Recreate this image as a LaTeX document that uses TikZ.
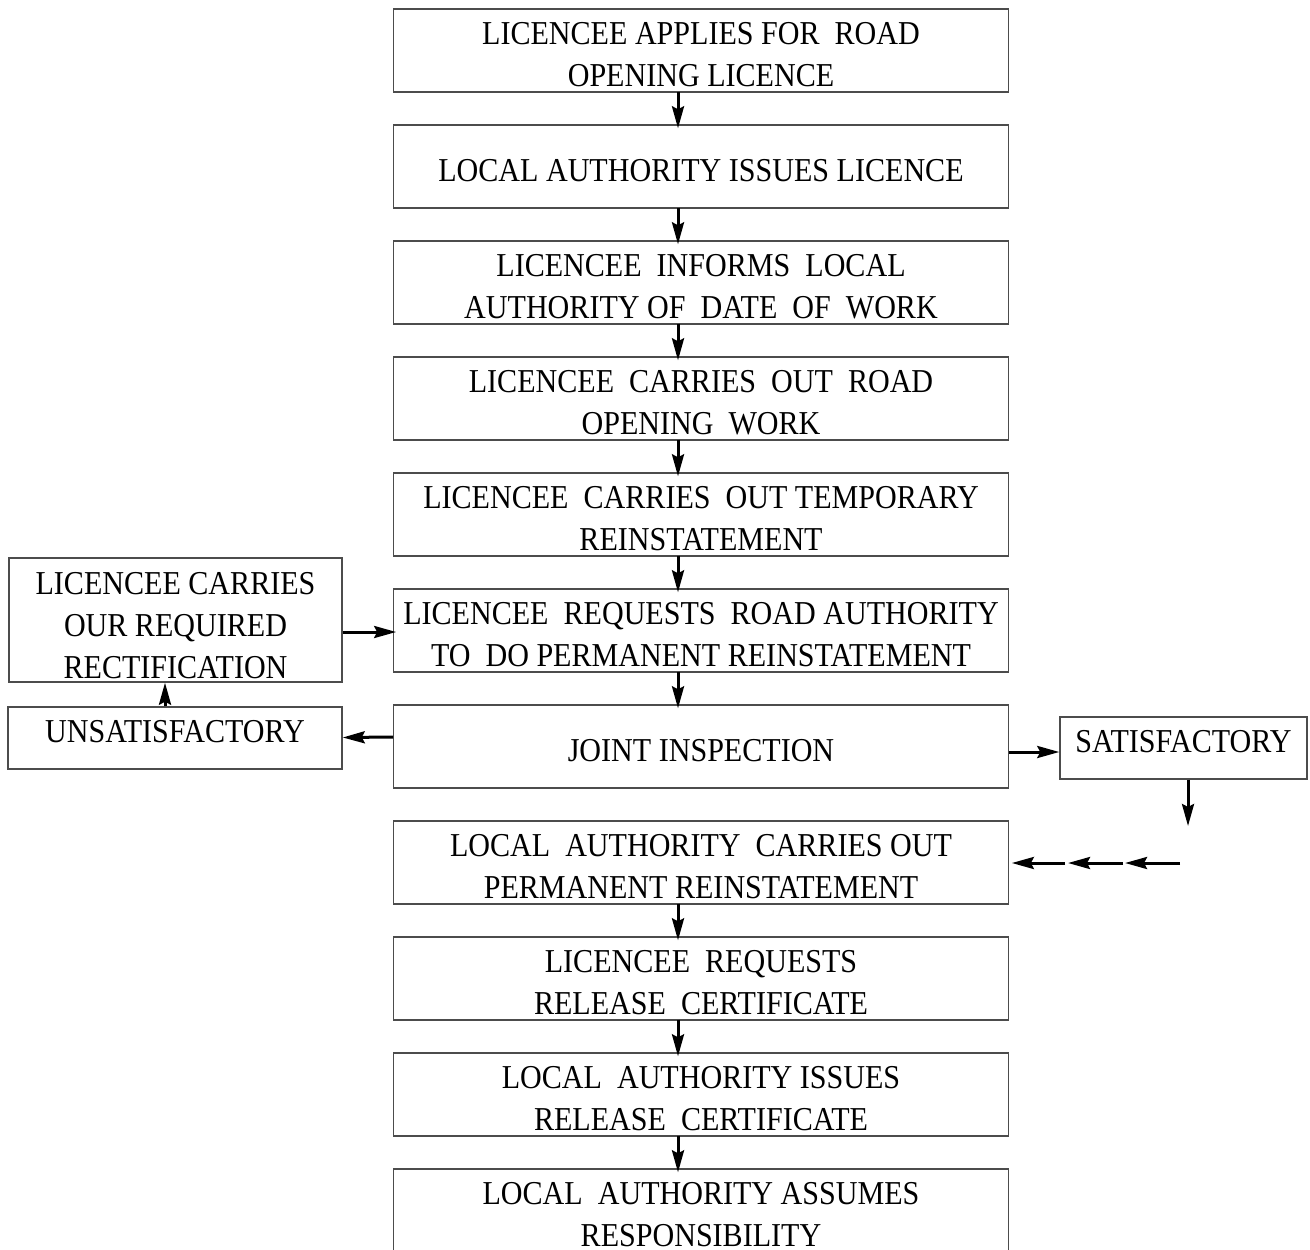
\documentclass[tikz,border=0pt]{standalone}
\usepackage{fontspec}
\setmainfont{Liberation Serif}[FakeStretch=0.9]
\usetikzlibrary{arrows.meta,calc}
\newcommand\topstrut[1]{\rule{0pt}{#1}}
\begin{document}
\begin{tikzpicture}[x=0.01cm,y=-0.01cm,
  txt/.style={font=\fontsize{9.5pt}{12pt}\selectfont},
  box/.style={txt,draw=black!70,line width=0.013cm,minimum width=6.14cm,minimum height=0.83cm,align=center,inner sep=0pt},
  sidebox/.style={txt,draw=black!70,line width=0.013cm,align=center,inner sep=0pt},
  tagbox/.style={txt,draw=black!70,line width=0.013cm,inner sep=0pt,minimum height=0.62cm,text depth=0.14cm},
  arr/.style={-{Stealth[length=0.22cm,width=0.12cm,inset=0.03cm]},line width=0.03cm}]
\useasboundingbox (0,0) rectangle (1310,1249);
\fill[white] (0,0) rectangle (1310,1249);
% main column
\node[box] (b1) at (701,50.5) {\topstrut{0.30cm}LICENCEE APPLIES FOR~ ROAD\\OPENING LICENCE};
\node[box] (b2) at (701,166.5) {\topstrut{0.30cm}LOCAL AUTHORITY ISSUES LICENCE};
\node[box] (b3) at (701,282.5) {\topstrut{0.30cm}LICENCEE~ INFORMS~ LOCAL\\AUTHORITY OF~ DATE~ OF~ WORK};
\node[box] (b4) at (701,398.5) {\topstrut{0.30cm}LICENCEE~ CARRIES~ OUT~ ROAD\\OPENING~ WORK};
\node[box] (b5) at (701,514.5) {\topstrut{0.30cm}LICENCEE~ CARRIES~ OUT TEMPORARY\\REINSTATEMENT};
\node[box] (b6) at (701,630.5) {\topstrut{0.30cm}LICENCEE~ REQUESTS~ ROAD AUTHORITY\\TO~ DO PERMANENT REINSTATEMENT};
\node[box] (b7) at (701,746.5) {\topstrut{0.30cm}JOINT INSPECTION};
\node[box] (b8) at (701,862.5) {\topstrut{0.30cm}LOCAL~ AUTHORITY~ CARRIES OUT\\PERMANENT REINSTATEMENT};
\node[box] (b9) at (701,978.5) {\topstrut{0.30cm}LICENCEE~ REQUESTS\\RELEASE~ CERTIFICATE};
\node[box] (b10) at (701,1094.5) {\topstrut{0.30cm}LOCAL~ AUTHORITY ISSUES\\RELEASE~ CERTIFICATE};
\node[box] (b11) at (701,1210.5) {\topstrut{0.30cm}LOCAL~ AUTHORITY ASSUMES\\RESPONSIBILITY};
% side boxes
\node[sidebox,minimum width=3.33cm,minimum height=1.24cm] (rect) at (175.5,620) {\topstrut{0.33cm}LICENCEE CARRIES\\OUR REQUIRED\\RECTIFICATION};
\node[tagbox,minimum width=3.34cm] (unsat) at (175,738) {UNSATISFACTORY};
\node[tagbox,minimum width=2.47cm] (sat) at (1183.5,748) {SATISFACTORY};
% axis for main arrows
\coordinate (ax) at (678,0);
\foreach \a/\b in {b1/b2,b2/b3,b3/b4,b4/b5,b5/b6,b6/b7,b8/b9,b9/b10,b10/b11}{
  \draw[arr] ($(\a.south -| ax)+(0,-1)$) -- ($(\b.north -| ax)+(0,4)$);
}
% side connections
\draw[arr] ($(rect.east)+(0,12)$) -- ($(b6.west)+(3,1.5)$);
\draw[arr] ($(b7.west)+(0,-9.5)$) -- ($(unsat.east)+(0,-0.5)$);
\draw[arr] ($(unsat.north)+(-10,0)$) -- ($(rect.south)+(-10.5,0)$);
\draw[arr] ($(b7.east)+(0,5.5)$) -- ($(sat.west)+(0,4)$);
\coordinate (d1) at (1188,826);
\draw[arr] ($(sat.south)+(4.5,0)$) -- (d1);
\coordinate (c0) at (1180,863);
\coordinate (c1) at (1125,863);
\coordinate (c2) at (1068,863);
\draw[arr] (c0) -- (c1);
\draw[arr] ($(c1)+(-2,0)$) -- (c2);
\draw[arr] ($(c2)+(-3,0)$) -- ($(b8.east)+(3,0.5)$);
\end{tikzpicture}
\end{document}
